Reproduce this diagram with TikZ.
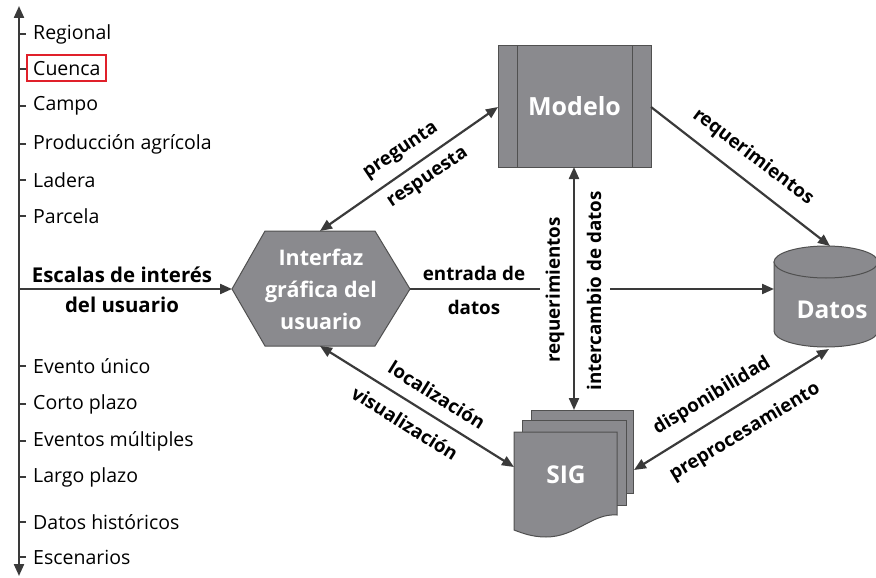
\documentclass[tikz,border=0pt]{standalone}
\usepackage{fontspec}
\setmainfont{Open Sans}
\usetikzlibrary{arrows.meta}
\definecolor{shapefill}{HTML}{8A8A8E}
\definecolor{shapeedge}{HTML}{505050}
\definecolor{arr}{HTML}{3A3A3A}
\definecolor{cred}{HTML}{E0202A}
\begin{document}
\begin{tikzpicture}[x=1pt,y=-1pt,
  tip/.tip={Triangle[length=12pt,width=10pt]},
  conn/.style={draw=arr, line width=2.2pt, -tip},
  bicon/.style={draw=arr, line width=2.2pt, tip-tip},
  plain/.style={draw=arr, line width=2.2pt},
  scalelbl/.style={anchor=west, font=\fontsize{19.5}{22}\selectfont, text=black, inner sep=0pt},
  lbl/.style={font=\bfseries\fontsize{18.8}{22}\selectfont, text=black, inner sep=0pt},
  shapelbl/.style={text=white, font=\bfseries\fontsize{24.5}{28}\selectfont},
  shp/.style={fill=shapefill, draw=shapeedge, line width=1pt},
  tickmark/.style={draw=arr, line width=1.6pt}]
\useasboundingbox (0,0) rectangle (876,578);

% ---------- left axis ----------
\coordinate (axtop) at (19,6);
\coordinate (axbot) at (19,576);
\coordinate (axmid) at (19,289);
\draw[bicon] (axbot) -- (axtop);

\foreach \n/\y/\t in {r1/34/Regional, r2/69/Cuenca, r3/106/Campo, r4/144/{Producción agrícola}, r5/180/Ladera, r6/216/Parcela,
  t1/366/{Evento único}, t2/404/{Corto plazo}, t3/441/{Eventos múltiples}, t4/477/{Largo plazo}, t5/522/{Datos históricos}, t6/557/Escenarios}{
  \draw[tickmark] (19,\y) -- (26,\y);
  \node[scalelbl] (\n) at (33,\y) {\t};
}
\draw[cred, line width=1.6pt] (27,55) rectangle (106,81);

\node[font=\bfseries\fontsize{20.4}{30}\selectfont, align=center, inner sep=0pt] (escalas) at (122,290) {Escalas de interés\\del usuario};

% ---------- hexagon ----------
\coordinate (hL) at (232,289);
\coordinate (hR) at (410,289);
\coordinate (hT) at (320,231);
\coordinate (hB) at (320,346);
\path[shp] (hL) -- (265,231) -- (375,231) -- (hR) -- (375,346) -- (265,346) -- cycle;
\node[text=white, font=\bfseries\fontsize{21.5}{32}\selectfont, align=center] (gui) at (321,289) {Interfaz\\gráfica del\\usuario};
\draw[conn] (axmid) -- (hL);

% ---------- Modelo ----------
\node[shp, minimum width=153pt, minimum height=121pt, inner sep=0pt] (modelo) at (574.5,106.5) {};
\draw[shapeedge, line width=1pt] ([xshift=20pt]modelo.north west) -- ([xshift=20pt]modelo.south west);
\draw[shapeedge, line width=1pt] ([xshift=-19pt]modelo.north east) -- ([xshift=-19pt]modelo.south east);
\node[shapelbl, font=\bfseries\fontsize{25}{28}\selectfont] (modlbl) at (modelo.center) {Modelo};

% ---------- Datos (cylinder) ----------
\path[shp] (774,262) -- (774,331) arc[start angle=180, end angle=360, x radius=52pt, y radius=16pt] -- (878,262) -- cycle;
\path[shp] (826,262) ellipse [x radius=52pt, y radius=16pt];
\node[shapelbl] (datos) at (832,310) {Datos};
\coordinate (dT) at (830,246);
\coordinate (dL) at (774,289);
\coordinate (dB) at (829,349);

% ---------- SIG (multi document) ----------
\path[shp] (531,410) rectangle (633,493);
\path[shp] (522,420) rectangle (626,505);
\path[shp] (514,432) -- (617,432) -- (617,515) .. controls (592,513) and (576,537) .. (546,537) .. controls (532,537) and (522,533) .. (514,530) -- cycle;
\node[shapelbl] (sig) at (566,475) {SIG};
\coordinate (sT) at (574,410);
\coordinate (sL) at (514,467);
\coordinate (sR) at (634,470);

% ---------- connectors ----------
\coordinate (mL) at (498,107);
\coordinate (mR) at (651,107);
\coordinate (mB) at (574,167);
\draw[bicon] (hT) -- (mL);
\draw[conn] (mR) -- (dT);
\draw[bicon] (mB) -- (sT);
\coordinate (e1) at (540,289);
\coordinate (e2) at (610,289);
\draw[plain] (hR) -- (e1);
\draw[conn] (e2) -- (dL);
\draw[bicon] (hB) -- (sL);
\draw[bicon] (sR) -- (dB);

% ---------- labels ----------
\node[lbl, rotate=34] (lpreg) at (401,151) {pregunta};
\node[lbl, rotate=34] (lresp) at (428,178) {respuesta};
\node[lbl, rotate=-37] (lreq1) at (753,157) {requerimientos};
\node[lbl, rotate=90] (lreq2) at (555,290) {requerimientos};
\node[lbl, rotate=90] (linter) at (594,291) {intercambio de datos};
\node[lbl] (lent1) at (474,273) {entrada de};
\node[lbl] (lent2) at (474,307) {datos};
\node[lbl, rotate=-32] (lloc) at (437,395) {localización};
\node[lbl, rotate=-32] (lvis) at (405,423) {visualización};
\node[lbl, rotate=31] (ldisp) at (712,396) {disponibilidad};
\node[lbl, rotate=31] (lpre) at (745,432) {preprocesamiento};
\end{tikzpicture}
\end{document}
